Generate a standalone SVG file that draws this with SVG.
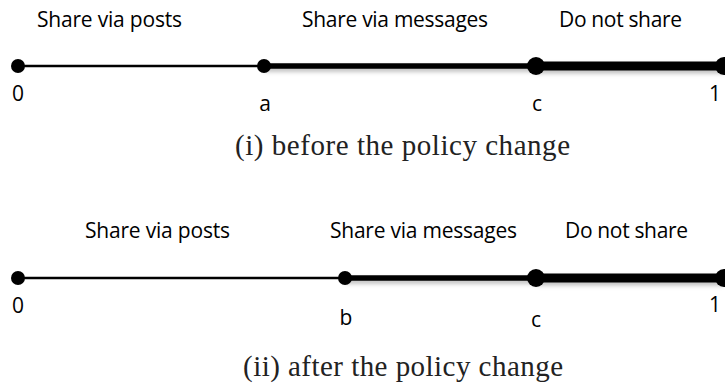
<svg xmlns="http://www.w3.org/2000/svg" width="725" height="387" viewBox="0 0 725 387">
  <defs>
    <filter id="soft" filterUnits="userSpaceOnUse" x="0" y="0" width="725" height="387">
      <feDropShadow dx="0" dy="3" stdDeviation="2" flood-color="#000" flood-opacity="0.25"/>
    </filter>
  </defs>
  <style>
    .seg { font-family: "Open Sans", "Liberation Sans", sans-serif; font-size: 21px; fill: #000; }
    .tick { font-family: "Open Sans", "Liberation Sans", sans-serif; font-size: 21px; fill: #000; text-anchor: middle; }
    .cap { font-family: "Liberation Serif", "DejaVu Serif", serif; font-size: 29px; fill: #222; }
    .thin { stroke: #000; stroke-width: 2.5; }
    .mid { stroke: #000; stroke-width: 5.5; filter: url(#soft); }
    .thick { stroke: #000; stroke-width: 9; filter: url(#soft); }
    .dot { fill: #000; }
  </style>

  <!-- (i) before the policy change -->
  <g id="panel-before">
    <g id="before-connectors">
      <line class="thin" x1="18" y1="66" x2="264" y2="66"/>
      <line class="mid" x1="264" y1="66" x2="536" y2="66"/>
      <line class="thick" x1="536" y1="66" x2="725" y2="66"/>
    </g>
    <g id="before-0"><circle class="dot" cx="18" cy="66" r="7"/><text class="tick" x="18" y="101">0</text></g>
    <g id="before-a"><circle class="dot" cx="264" cy="66" r="7"/><text class="tick" x="265" y="111">a</text></g>
    <g id="before-c"><circle class="dot" cx="536" cy="66" r="9"/><text class="tick" x="537" y="111">c</text></g>
    <g id="before-1"><circle class="dot" cx="724" cy="66" r="9"/><text class="tick" x="715" y="101">1</text></g>
    <g id="before-labels">
      <text class="seg" x="37" y="27" textLength="145">Share via posts</text>
      <text class="seg" x="302" y="27" textLength="186">Share via messages</text>
      <text class="seg" x="559" y="27" textLength="123">Do not share</text>
    </g>
    <text class="cap" x="235" y="155" textLength="335">(i) before the policy change</text>
  </g>

  <!-- (ii) after the policy change -->
  <g id="panel-after">
    <g id="after-connectors">
      <line class="thin" x1="18" y1="278" x2="345" y2="278"/>
      <line class="mid" x1="345" y1="278" x2="536" y2="278"/>
      <line class="thick" x1="536" y1="278" x2="725" y2="278"/>
    </g>
    <g id="after-0"><circle class="dot" cx="18" cy="278" r="7"/><text class="tick" x="18" y="313">0</text></g>
    <g id="after-b"><circle class="dot" cx="345" cy="278" r="7"/><text class="tick" x="346" y="325">b</text></g>
    <g id="after-c"><circle class="dot" cx="536" cy="278" r="9"/><text class="tick" x="536" y="327">c</text></g>
    <g id="after-1"><circle class="dot" cx="724" cy="278" r="9"/><text class="tick" x="715" y="312">1</text></g>
    <g id="after-labels">
      <text class="seg" x="85" y="238" textLength="145">Share via posts</text>
      <text class="seg" x="330" y="238" textLength="187">Share via messages</text>
      <text class="seg" x="565" y="238" textLength="123">Do not share</text>
    </g>
    <text class="cap" x="243" y="376" textLength="320">(ii) after the policy change</text>
  </g>
</svg>
